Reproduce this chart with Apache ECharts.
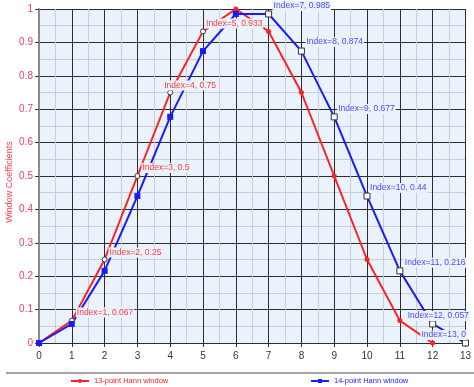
<!DOCTYPE html>
<html>
<head>
<meta charset="utf-8">
<script src="https://cdn.jsdelivr.net/npm/echarts@6/dist/echarts.min.js"></script>
<style>
  html, body { margin: 0; padding: 0; background: #ffffff; }
  #chart { width: 474px; height: 387px; }
</style>
</head>
<body>
<div id="chart"></div>
<script>
// Hann window coefficients for a 13-point and a 14-point window
const hann13Index = [0, 1, 2, 3, 4, 5, 6, 7, 8, 9, 10, 11, 12];
const hann13Values = [0, 0.067, 0.25, 0.5, 0.75, 0.933, 1, 0.933, 0.75, 0.5, 0.25, 0.067, 0];
const hann14Index = [0, 1, 2, 3, 4, 5, 6, 7, 8, 9, 10, 11, 12, 13];
const hann14Values = [0, 0.057, 0.216, 0.44, 0.677, 0.874, 0.985, 0.985, 0.874, 0.677, 0.44, 0.216, 0.057, 0];
// Points that carry an "Index=n, value" annotation
const hann13Annotated = [1, 2, 3, 4, 5];
const hann14Annotated = [7, 8, 9, 10, 11, 12, 13];
const seriesNames = ['13-point Hann window', '14-point Hann window'];
const xTicks = { min: 0, max: 13, step: 1 };
const yTicks = { min: 0, max: 1, step: 0.1 };

// Label placement (pixel offsets from the marker centre)
const labelOffsets13 = { 1: [4, -8], 2: [4, -7], 3: [4, -8], 4: [-7, -7], 5: [2, -8] };
const labelOffsets14 = { 7: [4, -8], 8: [4, -9], 9: [3, -8], 10: [2, -8], 11: [4, -8], 12: [-26, -8], 13: [-45, -8] };

const PLOT_BG = '#eaf2fc';
const RED = '#ff2020';
const BLUE = '#1a1aff';
const FONT = '"Liberation Sans", Arial, sans-serif';

function buildData(xs, ys, annotated, offsets, cfg) {
  return xs.map((x, k) => {
    const item = { value: [x, ys[k]] };
    if (annotated.indexOf(x) >= 0) {
      item.symbol = cfg.openSymbol;
      item.symbolSize = cfg.openSize;
      item.itemStyle = { color: '#ffffff', borderColor: '#333333', borderWidth: 1 };
      item.label = {
        show: true,
        position: 'inside',
        align: 'left',
        verticalAlign: 'middle',
        offset: offsets[x],
        formatter: 'Index=' + x + ', ' + ys[k],
        color: cfg.labelColor,
        fontSize: 8.5,
        fontFamily: FONT,
        backgroundColor: PLOT_BG,
        padding: [1, 1, 0, 1]
      };
    }
    return item;
  });
}

const chart = echarts.init(document.getElementById('chart'), null, { renderer: 'canvas' });

chart.setOption({
  animation: false,
  backgroundColor: '#ffffff',
  grid: {
    left: 39, right: 3, top: 9, bottom: 44,
    show: true, backgroundColor: PLOT_BG, borderWidth: 0
  },
  xAxis: {
    type: 'value',
    min: xTicks.min, max: xTicks.max, interval: xTicks.step,
    axisLine: { show: false },
    axisTick: { show: true, length: 4, lineStyle: { color: '#333333' } },
    axisLabel: { color: '#333333', fontSize: 10, fontFamily: FONT, margin: 8, showMaxLabel: true },
    splitLine: { show: true, lineStyle: { color: '#2c2c2c', width: 1 } },
    minorTick: { show: false, splitNumber: 2 },
    minorSplitLine: { show: true, lineStyle: { color: '#c8ced6', width: 1 } }
  },
  yAxis: {
    type: 'value',
    min: yTicks.min, max: yTicks.max, interval: yTicks.step,
    axisLine: { show: true, lineStyle: { color: '#8a8a8a', width: 2 } },
    axisTick: { show: true, length: 4, lineStyle: { color: '#333333' } },
    axisLabel: { color: '#f2405a', fontSize: 10, fontFamily: FONT, margin: 6 },
    splitLine: { show: true, lineStyle: { color: '#2c2c2c', width: 1 } },
    minorTick: { show: false, splitNumber: 2 },
    minorSplitLine: { show: true, lineStyle: { color: '#c8ced6', width: 1 } }
  },
  legend: [
    {
      data: [seriesNames[0]], left: 70, top: 377, padding: 0, itemWidth: 18, itemHeight: 5, itemGap: 0,
      textStyle: { color: RED, fontSize: 7.5, fontFamily: FONT }
    },
    {
      data: [seriesNames[1]], left: 310, top: 377, padding: 0, itemWidth: 18, itemHeight: 5, itemGap: 0,
      textStyle: { color: BLUE, fontSize: 7.5, fontFamily: FONT }
    }
  ],
  graphic: [
    {
      type: 'line', silent: true,
      shape: { x1: 6, y1: 373, x2: 474, y2: 373 },
      style: { stroke: '#a3a3a3', lineWidth: 2 }
    },
    {
      type: 'text', silent: true,
      x: 10, y: 182, rotation: Math.PI / 2,
      style: {
        text: 'Window Coefficients', fill: '#f2405a', fontSize: 9, fontFamily: FONT,
        align: 'center', verticalAlign: 'middle'
      }
    }
  ],
  series: [
    {
      name: seriesNames[0],
      type: 'line',
      symbol: 'circle',
      symbolSize: 5,
      showAllSymbol: true,
      lineStyle: { color: RED, width: 2 },
      itemStyle: { color: RED },
      data: buildData(hann13Index, hann13Values, hann13Annotated, labelOffsets13,
        { openSymbol: 'circle', openSize: 5, labelColor: '#ff3a3a' })
    },
    {
      name: seriesNames[1],
      type: 'line',
      symbol: 'rect',
      symbolSize: 6,
      showAllSymbol: true,
      lineStyle: { color: BLUE, width: 2 },
      itemStyle: { color: BLUE },
      data: buildData(hann14Index, hann14Values, hann14Annotated, labelOffsets14,
        { openSymbol: 'rect', openSize: 6, labelColor: '#4a4aff' })
    }
  ]
});
</script>
</body>
</html>
